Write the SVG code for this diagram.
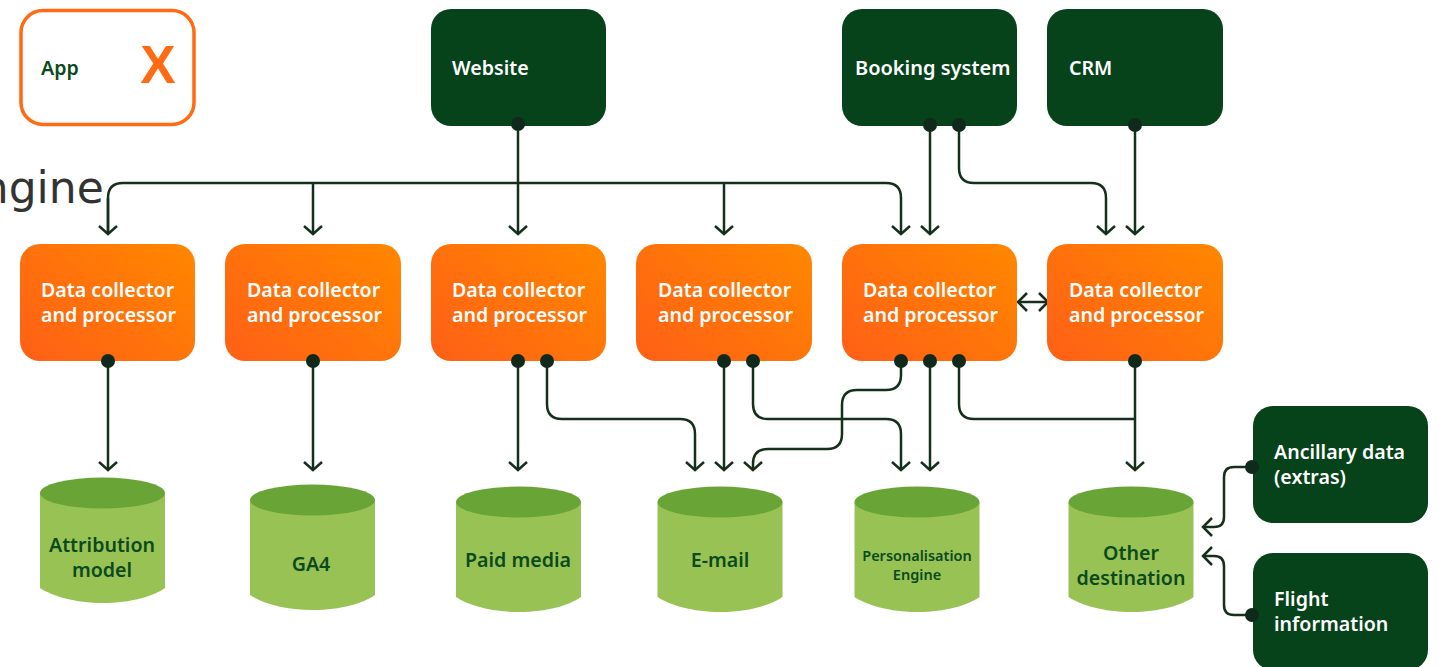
<svg xmlns="http://www.w3.org/2000/svg" width="1440" height="667" viewBox="0 0 1440 667">
<defs>
<linearGradient id="og" x1="0" y1="1" x2="1" y2="0.2"><stop offset="0" stop-color="#FF5F17"/><stop offset="1" stop-color="#FF8400"/></linearGradient>
<marker id="arr" viewBox="0 0 20 20" refX="17" refY="10" markerWidth="20" markerHeight="20" markerUnits="userSpaceOnUse" orient="auto"><path d="M9 1 L17 10 L9 19" fill="none" stroke="#14301c" stroke-width="2.500"/></marker>
<g id="cyl"><path d="M0 15 V110 C12 118 35 125 63 125 C91 125 114 118 125 110 V15 Z" fill="#99C254"/><ellipse cx="62.500" cy="15" rx="62.500" ry="15.500" fill="#69A437"/></g>
</defs>
<style>
.t{font-family:"Noto Sans","Open Sans",sans-serif;font-weight:600;font-size:19.600px}
.w{fill:#fff}.g{fill:#0B4A1C}
.d{fill:#06431A}.o{fill:url(#og)}
.c{fill:none;stroke:#14301c;stroke-width:2.500}
.h{fill:none;stroke:#14301c;stroke-width:2.500}
.p{fill:#11291a}
</style>
<text x="-47" y="203" font-family="DejaVu Sans, sans-serif" font-size="44" fill="#333">Engine</text>
<g id="connectors">
<path class="c" marker-end="url(#arr)" d="M108 234V198Q108 183 123 183H886Q901 183 901 198V234"/>
<path class="c" marker-end="url(#arr)" d="M108 198V234"/>
<path class="c" marker-end="url(#arr)" d="M313 183V234"/>
<path class="c" marker-end="url(#arr)" d="M518 124V234"/>
<path class="c" marker-end="url(#arr)" d="M724 183V234"/>
<path class="c" marker-end="url(#arr)" d="M930 126V234"/>
<path class="c" marker-end="url(#arr)" d="M959 126V168Q959 183 974 183H1091Q1106 183 1106 198V234"/>
<path class="c" marker-end="url(#arr)" d="M1135 126V234"/>
<path class="c" d="M1019 302H1047"/>
<path class="h" d="M1027 293L1018 302L1027 311M1039 293L1048 302L1039 311"/>
<path class="c" marker-end="url(#arr)" d="M108 361V470"/>
<path class="c" marker-end="url(#arr)" d="M313 361V470"/>
<path class="c" marker-end="url(#arr)" d="M518 361V470"/>
<path class="c" marker-end="url(#arr)" d="M547 361V404Q547 419 562 419H680Q695 419 695 434V470"/>
<path class="c" marker-end="url(#arr)" d="M724 361V470"/>
<path class="c" marker-end="url(#arr)" d="M753 361V404Q753 419 768 419H886Q901 419 901 434V470"/>
<path class="c" marker-end="url(#arr)" d="M930 361V470"/>
<path class="c" marker-end="url(#arr)" d="M901 361V375Q901 390 886 390H857Q842 390 842 405V434Q842 449 827 449H768Q753 449 753 464V470"/>
<path class="c" d="M959 361V404Q959 419 974 419H1135"/>
<path class="c" marker-end="url(#arr)" d="M1135 361V470"/>
<path class="c" d="M1252 467H1234Q1224 467 1224 477V517Q1224 527 1214 527H1204"/>
<path class="h" d="M1212 518L1203 527L1212 536"/>
<path class="c" d="M1252 615H1234Q1224 615 1224 605V566Q1224 556 1214 556H1204"/>
<path class="h" d="M1212 547L1203 556L1212 565"/>
</g>
<g id="app"><rect x="21" y="10.500" width="173" height="114" rx="22" fill="#fff" stroke="#FF6A13" stroke-width="3.500"/><text class="t g" x="41" y="75">App</text><text x="158" y="83" text-anchor="middle" font-family="Liberation Sans, sans-serif" font-weight="700" font-size="53" fill="#FF6A13">X</text></g>
<g id="website"><rect class="d" x="431" y="9" width="175" height="117" rx="20"/><text class="t w" x="452" y="75">Website</text></g>
<g id="booking"><rect class="d" x="842" y="9" width="175" height="117" rx="20"/><text class="t w" x="855" y="75" style="font-size:20px">Booking system</text></g>
<g id="crm"><rect class="d" x="1047" y="9" width="176" height="117" rx="20"/><text class="t w" x="1069" y="75">CRM</text></g>
<g id="dc1"><rect class="o" x="20" y="244" width="175" height="117" rx="20"/><text class="t w" x="41" y="297">Data collector</text><text class="t w" x="41" y="322">and processor</text></g>
<g id="dc2"><rect class="o" x="225" y="244" width="176" height="117" rx="20"/><text class="t w" x="247" y="297">Data collector</text><text class="t w" x="247" y="322">and processor</text></g>
<g id="dc3"><rect class="o" x="431" y="244" width="175" height="117" rx="20"/><text class="t w" x="452" y="297">Data collector</text><text class="t w" x="452" y="322">and processor</text></g>
<g id="dc4"><rect class="o" x="636" y="244" width="176" height="117" rx="20"/><text class="t w" x="658" y="297">Data collector</text><text class="t w" x="658" y="322">and processor</text></g>
<g id="dc5"><rect class="o" x="842" y="244" width="175" height="117" rx="20"/><text class="t w" x="863" y="297">Data collector</text><text class="t w" x="863" y="322">and processor</text></g>
<g id="dc6"><rect class="o" x="1047" y="244" width="176" height="117" rx="20"/><text class="t w" x="1069" y="297">Data collector</text><text class="t w" x="1069" y="322">and processor</text></g>
<g id="ancillary"><rect class="d" x="1253" y="406" width="175" height="117" rx="20"/><text class="t w" x="1274" y="459">Ancillary data</text><text class="t w" x="1274" y="484">(extras)</text></g>
<g id="flight"><rect class="d" x="1253" y="553" width="175" height="117" rx="20"/><text class="t w" x="1274" y="606">Flight</text><text class="t w" x="1274" y="631">information</text></g>
<g id="attribution"><use href="#cyl" x="40" y="478"/><text class="t g" x="102" y="552" text-anchor="middle">Attribution</text><text class="t g" x="102" y="577" text-anchor="middle">model</text></g>
<g id="ga4"><use href="#cyl" x="250" y="485"/><text class="t g" x="311" y="571" text-anchor="middle">GA4</text></g>
<g id="paid"><use href="#cyl" x="456" y="487"/><text class="t g" x="518" y="567" text-anchor="middle">Paid media</text></g>
<g id="email"><use href="#cyl" x="657.500" y="487"/><text class="t g" x="720" y="567" text-anchor="middle">E-mail</text></g>
<g id="personalisation"><use href="#cyl" x="854.500" y="487"/><text class="t g" x="917" y="561" text-anchor="middle" style="font-size:14.500px">Personalisation</text><text class="t g" x="917" y="580" text-anchor="middle" style="font-size:14.500px">Engine</text></g>
<g id="other"><use href="#cyl" x="1068.500" y="487"/><text class="t g" x="1131" y="560" text-anchor="middle">Other</text><text class="t g" x="1131" y="585" text-anchor="middle">destination</text></g>
<g id="dots">
<circle class="p" cx="518" cy="124" r="7"/><circle class="p" cx="930" cy="125" r="7"/><circle class="p" cx="959" cy="125" r="7"/><circle class="p" cx="1135" cy="125" r="7"/>
<circle class="p" cx="108" cy="361" r="7"/><circle class="p" cx="313" cy="361" r="7"/><circle class="p" cx="518" cy="361" r="7"/><circle class="p" cx="547" cy="361" r="7"/><circle class="p" cx="724" cy="361" r="7"/><circle class="p" cx="753" cy="361" r="7"/><circle class="p" cx="901" cy="361" r="7"/><circle class="p" cx="930" cy="361" r="7"/><circle class="p" cx="959" cy="361" r="7"/><circle class="p" cx="1135" cy="361" r="7"/>
<circle class="p" cx="1252" cy="467" r="7"/><circle class="p" cx="1252" cy="615" r="7"/>
</g>
</svg>
